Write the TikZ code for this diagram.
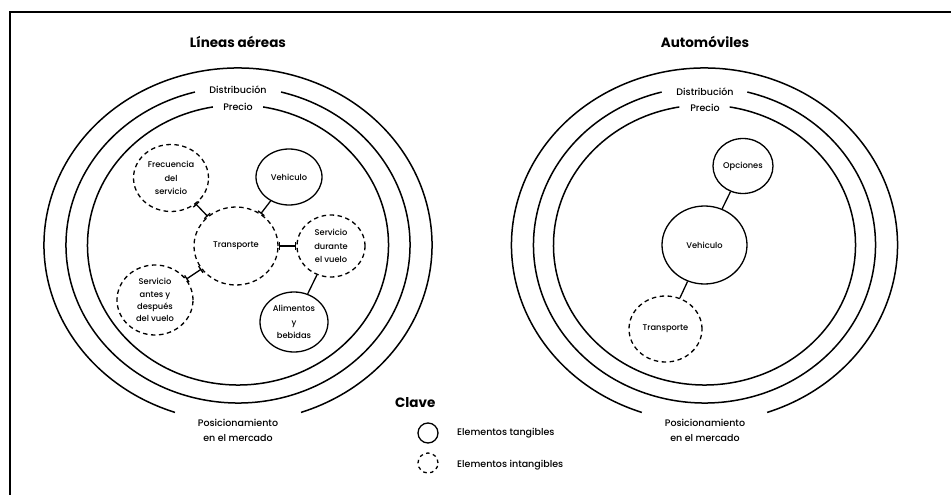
\documentclass[tikz,border=0pt]{standalone}
\usepackage{fontspec}
\setmainfont{Poppins}[UprightFont=* Medium, BoldFont=* Bold]
\usetikzlibrary{shapes.geometric,arrows.meta}
\newcommand\ndfont{\fontsize{8.3}{13.5}\selectfont}
\newcommand\ringfont{\fontsize{9.5}{15}\selectfont}
\begin{document}
\begin{tikzpicture}[x=1pt,y=-1pt,
  ring/.style={line width=1.5pt},
  tang/.style={draw, ellipse, line width=1.3pt, inner sep=0pt, align=center, font=\ndfont},
  intang/.style={tang, dash pattern=on 4.5pt off 3.5pt},
  link/.style={line width=1.3pt},
  barboth/.style={link, {Bar[width=8pt]}-{Bar[width=8pt]}},
  barend/.style={link, -{Bar[width=8pt]}},
  ringlabel/.style={font=\ringfont, inner sep=1pt, align=center},
  title/.style={font=\fontsize{13.5}{16}\selectfont\bfseries}
]
\useasboundingbox (0,0) rectangle (951,495);
% frame
\draw[line width=2.5pt] (10,495) -- (10,12) -- (951,12);

% ===== Left diagram =====
\node[title] (t1) at (238,42) {Líneas aéreas};
\draw[ring] ([shift={(108.95:194 and 177)}]238,245) arc[start angle=108.95, end angle=431.05, x radius=194, y radius=177];
\draw[ring] ([shift={(284.5:172 and 158)}]238,245) arc[start angle=284.5, end angle=615.5, x radius=172, y radius=158];
\draw[ring] ([shift={(279.6:150.5 and 140)}]238,245) arc[start angle=279.6, end angle=620.4, x radius=150.5, y radius=140];
\node[ringlabel] (d1) at (238,90) {Distribución};
\node[ringlabel] (p1) at (238,107) {Precio};
\node[ringlabel] (m1) at (238,430) {Posicionamiento\\en el mercado};

\node[intang, minimum width=75pt, minimum height=67pt] (frec) at (171,178) {Frecuencia\\del\\servicio};
\node[tang, minimum width=66pt, minimum height=56pt] (veh1) at (289,177) {Vehiculo};
\node[intang, minimum width=84pt, minimum height=78pt] (tr1) at (236,246) {Transporte};
\node[intang, minimum width=68pt, minimum height=62pt] (sdur) at (331,246) {Servicio\\durante\\el vuelo};
\node[intang, minimum width=76pt, minimum height=70pt, font=\fontsize{8.3}{12.3}\selectfont] (sant) at (155,300) {Servicio\\antes y\\después\\del vuelo};
\node[tang, minimum width=68pt, minimum height=60pt] (alim) at (294,322) {Alimentos\\y\\bebidas};

\draw[barboth] (frec) -- (tr1);
\draw[barend] (veh1) -- (tr1);
\draw[barboth] (tr1) -- (sdur);
\draw[barboth] (tr1) -- (sant);
\draw[link] (sdur) -- (alim);

% ===== Right diagram =====
\node[title] (t2) at (705,42) {Automóviles};
\draw[ring] ([shift={(108.95:193 and 177)}]704.5,245) arc[start angle=108.95, end angle=431.05, x radius=193, y radius=177];
\draw[ring] ([shift={(284.5:171 and 158)}]704.5,245) arc[start angle=284.5, end angle=615.5, x radius=171, y radius=158];
\draw[ring] ([shift={(279.6:151 and 140)}]704.5,245) arc[start angle=279.6, end angle=620.4, x radius=151, y radius=140];
\node[ringlabel] (d2) at (705,92) {Distribución};
\node[ringlabel] (p2) at (705,108) {Precio};
\node[ringlabel] (m2) at (705,430) {Posicionamiento\\en el mercado};

\node[tang, minimum width=60pt, minimum height=55pt] (opc) at (743,166) {Opciones};
\node[tang, minimum width=85pt, minimum height=78pt] (veh2) at (704.5,245) {Vehiculo};
\node[intang, minimum width=73pt, minimum height=66pt] (tr2) at (665.5,329) {Transporte};
\draw[link] (opc) -- (veh2);
\draw[link] (veh2) -- (tr2);

% ===== Legend =====
\node[title, anchor=west, inner sep=0pt] (clave) at (395,403) {Clave};
\node[draw, circle, line width=1.3pt, minimum size=20pt, inner sep=0pt] (ltan) at (428,433) {};
\node[draw, circle, line width=1.3pt, minimum size=20pt, inner sep=0pt, dash pattern=on 3.5pt off 3.5pt] (lint) at (428,463) {};
\node[anchor=west, font=\ringfont, inner sep=0pt] (ttan) at (457,433) {Elementos tangibles};
\node[anchor=west, font=\ringfont, inner sep=0pt] (tint) at (457,465) {Elementos intangibles};
\end{tikzpicture}
\end{document}
